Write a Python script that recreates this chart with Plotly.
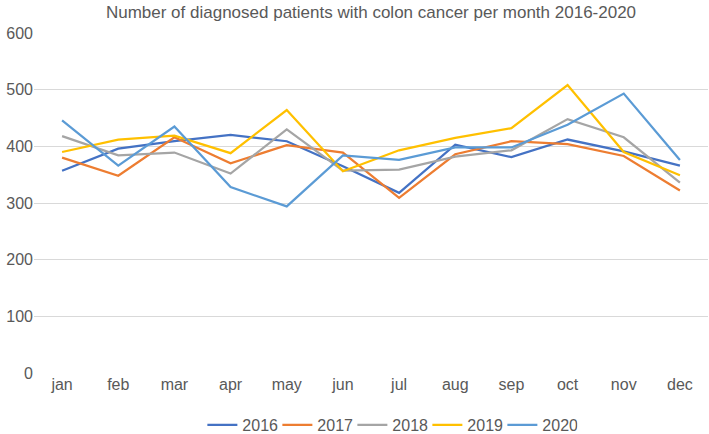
import plotly.graph_objects as go

months = ["jan", "feb", "mar", "apr", "may", "jun", "jul", "aug", "sep", "oct", "nov", "dec"]
years = ["2016", "2017", "2018", "2019", "2020"]

v2016 = [357, 396, 409, 420, 409, 365, 318, 403, 381, 412, 391, 366]
v2017 = [380, 348, 416, 370, 402, 389, 309, 386, 409, 404, 383, 322]
v2018 = [418, 384, 389, 352, 430, 357, 359, 382, 393, 448, 416, 336]
v2019 = [390, 412, 419, 388, 464, 356, 393, 415, 432, 508, 390, 349]
v2020 = [446, 366, 435, 328, 294, 384, 376, 398, 398, 438, 493, 376]

series = [v2016, v2017, v2018, v2019, v2020]
colors = ["#4472C4", "#ED7D31", "#A5A5A5", "#FFC000", "#5B9BD5"]

fig = go.Figure()
for name, vals, col in zip(years, series, colors):
    fig.add_trace(go.Scatter(x=months, y=vals, name=name, mode="lines",
                             line=dict(color=col, width=2.25)))

font = "Liberation Sans, Arial, sans-serif"
fig.update_layout(
    width=709, height=434,
    paper_bgcolor="white", plot_bgcolor="white",
    margin=dict(l=34, r=1, t=33, b=61, autoexpand=False),
    title=dict(text="Number of diagnosed patients with colon cancer per month 2016-2020",
               x=0.5, xanchor="center", xref="paper", y=1 - 12 / 434, yanchor="middle",
               font=dict(family=font, size=17, color="#595959")),
    font=dict(family=font, size=16, color="#595959"),
    showlegend=True,
    legend=dict(orientation="h", x=0.528, xanchor="center", yref="container",
                y=1 - 425 / 434, yanchor="middle",
                font=dict(family=font, size=16, color="#595959"),
                entrywidth=30, itemwidth=30, tracegroupgap=0),
    xaxis=dict(type="category", range=[-0.5, 11.5], showgrid=False, zeroline=False,
               showline=False, ticks="", tickfont=dict(size=16, color="#595959")),
    yaxis=dict(range=[0, 600], dtick=100, showgrid=True, gridcolor="#D9D9D9",
               gridwidth=1, zeroline=False, showline=False, ticks="",
               ticklabelstandoff=0,
               tickfont=dict(size=16, color="#595959")),
)
fig.write_html("out.html", config={"displayModeBar": False},
               post_script="document.body.style.margin='0';document.body.style.padding='0';")
